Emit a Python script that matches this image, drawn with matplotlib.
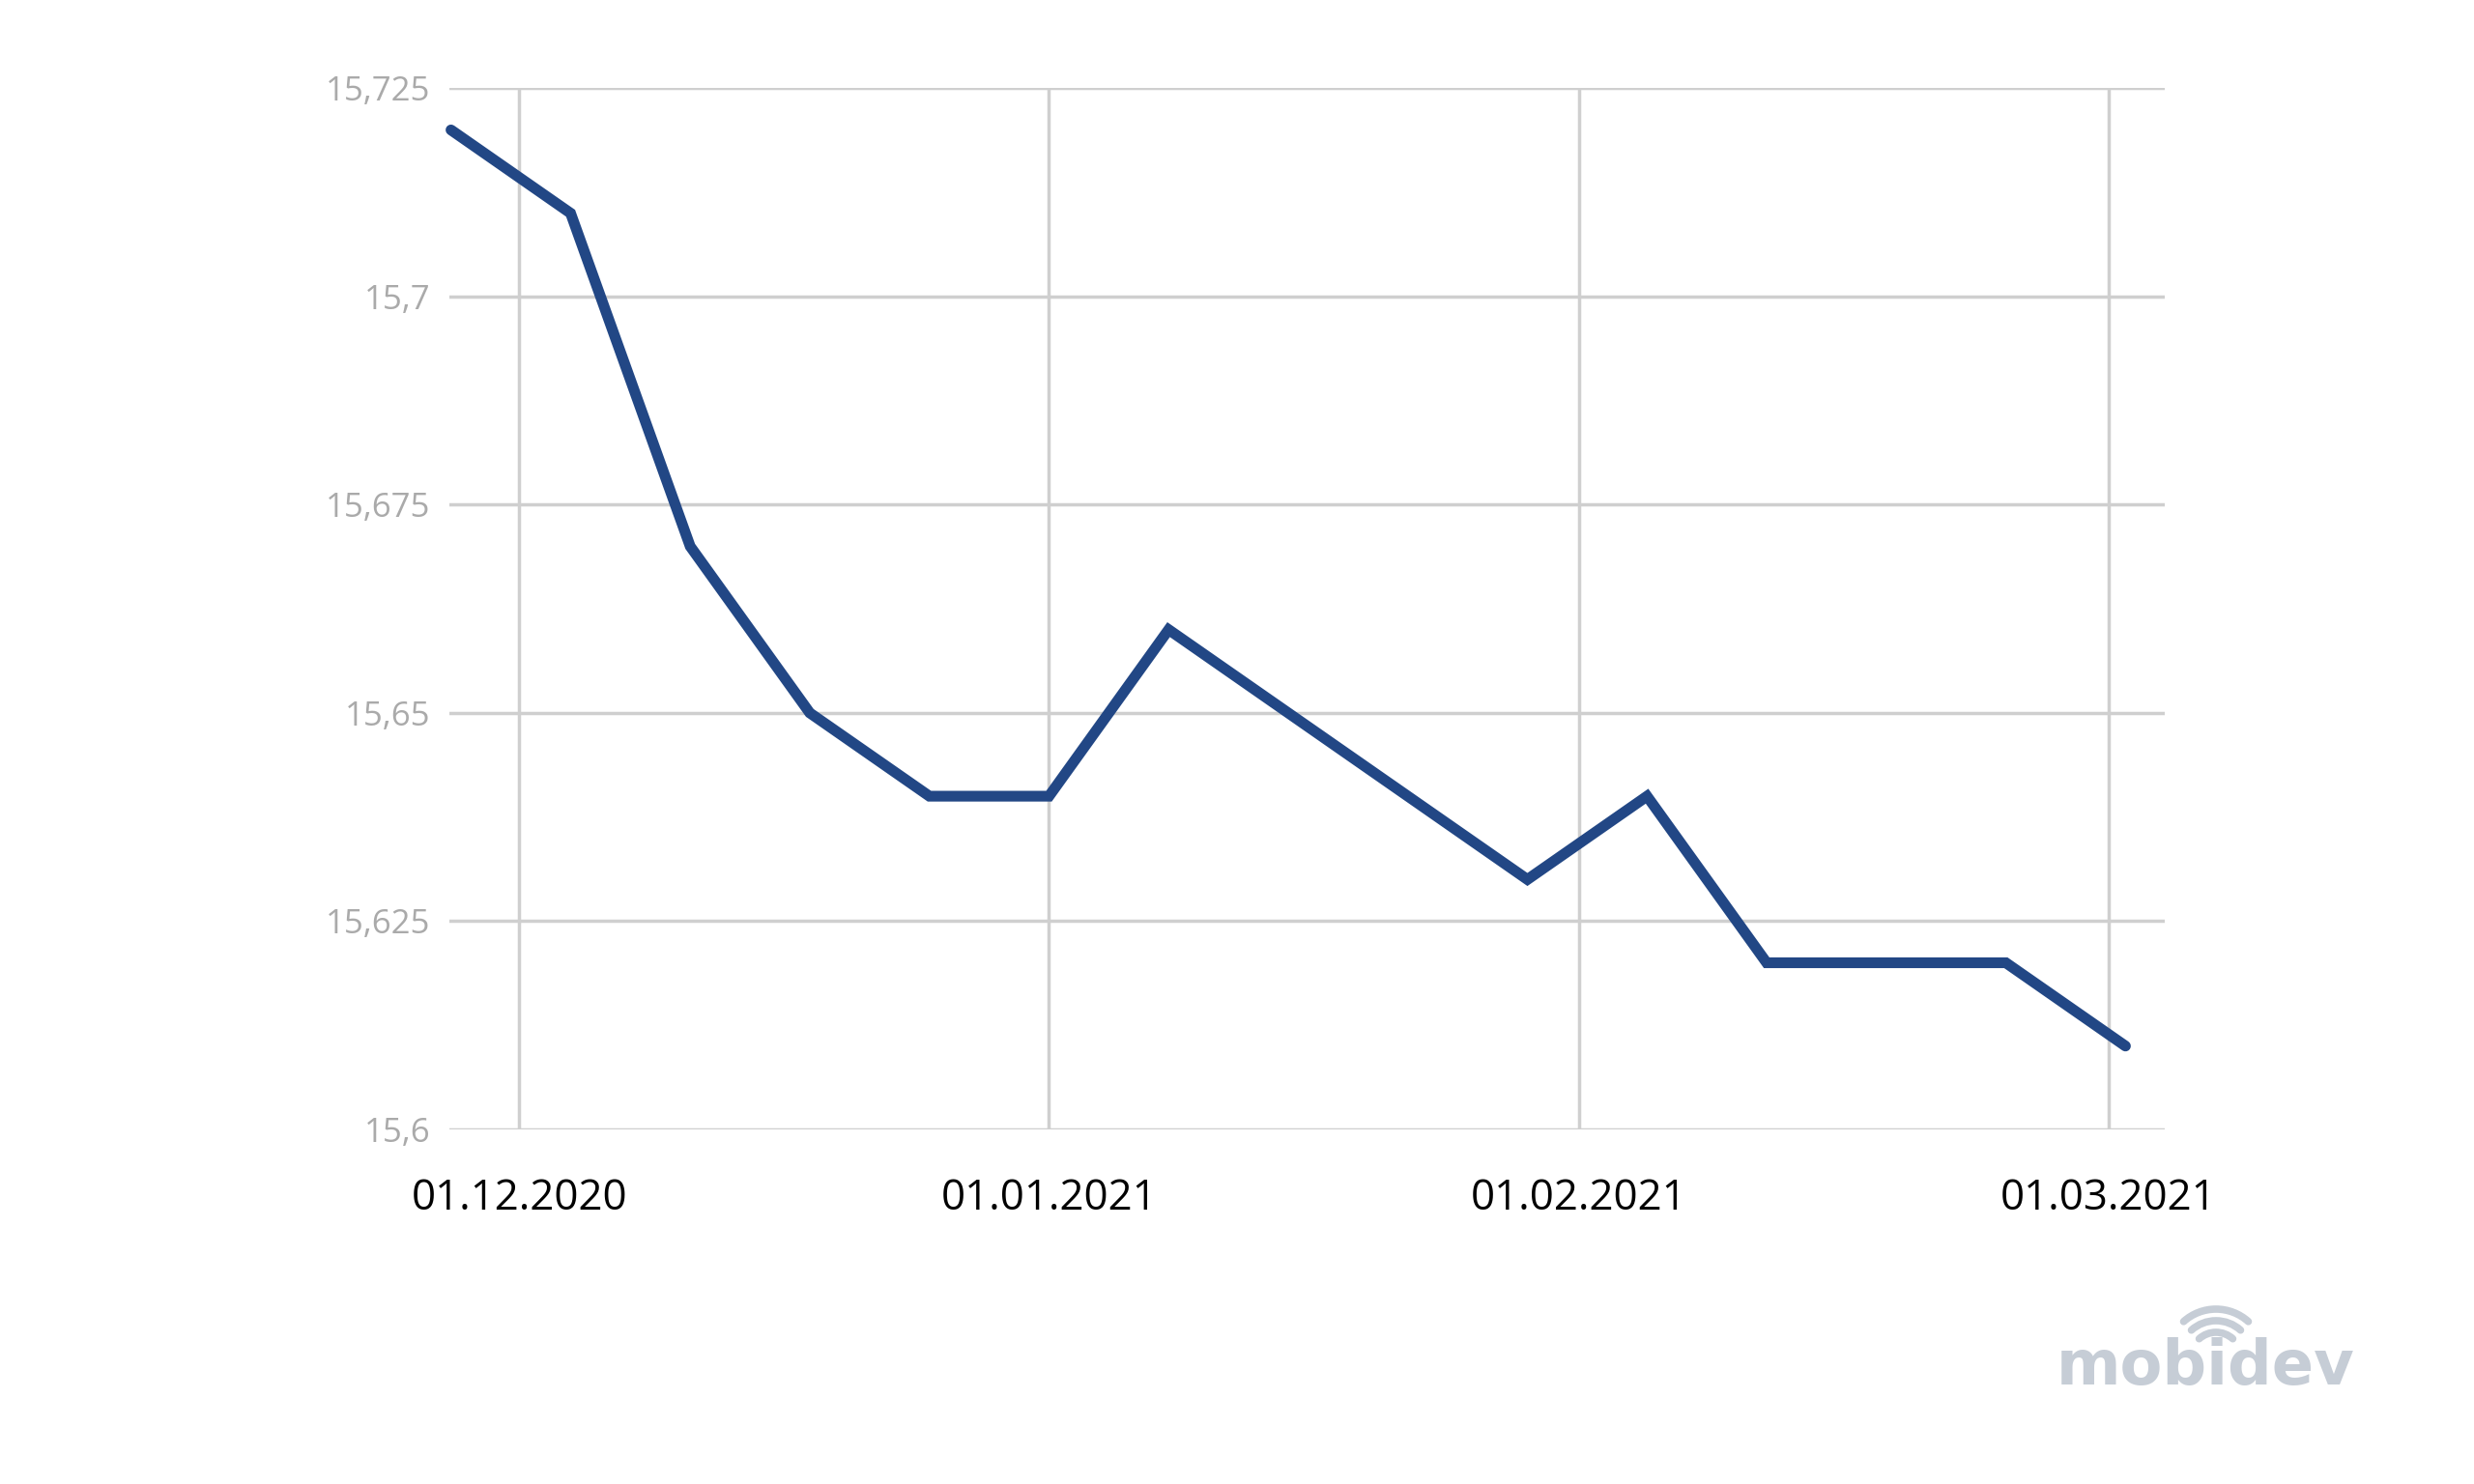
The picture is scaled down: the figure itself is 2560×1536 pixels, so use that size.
import numpy as np
import matplotlib
matplotlib.use('Agg')
import matplotlib.pyplot as plt
from matplotlib.patches import Arc

plt.rcParams['font.family'] = ['Open Sans', 'DejaVu Sans']

# weekly points, days counted from 27.11.2020
days = [0, 7, 14, 21, 28, 35, 42, 49, 56, 63, 70, 77, 84, 91, 98]
rate = [15.72, 15.71, 15.67, 15.65, 15.64, 15.64, 15.66, 15.65,
        15.64, 15.63, 15.64, 15.62, 15.62, 15.62, 15.61]

x_ticks = [4, 35, 66, 97]
x_labels = ['01.12.2020', '01.01.2021', '01.02.2021', '01.03.2021']
y_ticks = [15.6, 15.625, 15.65, 15.675, 15.7, 15.725]
y_labels = ['15,6', '15,625', '15,65', '15,675', '15,7', '15,725']

fig = plt.figure(figsize=(25.6, 15.36), dpi=100)
ax = fig.add_axes([0.1816, 0.239, 0.875 - 0.1816, 0.9405 - 0.239])

ax.plot(days, rate, color='#224785', lw=8, solid_joinstyle='miter',
        solid_capstyle='round', clip_on=False, zorder=3)

ax.set_xlim(-0.1, 100.3)
ax.set_ylim(15.6, 15.725)
ax.set_xticks(x_ticks)
ax.set_xticklabels(x_labels, fontsize=31.5, color='black')
ax.set_yticks(y_ticks)
ax.set_yticklabels(y_labels, fontsize=25, color='#aaaaaa')
ax.tick_params(axis='both', length=0)
ax.tick_params(axis='x', pad=36)
ax.tick_params(axis='y', pad=14)
ax.grid(True, color='#cfcfcf', lw=2.5)
for s in ax.spines.values():
    s.set_visible(False)

# mobidev logo in the corner
fig.text(2128 / 2560, 1 - 1433 / 1536, 'mobidev', fontsize=46, fontweight='bold',
         family='DejaVu Sans', color='#c6cdd6', ha='left', va='baseline')
ov = fig.add_axes([0, 0, 1, 1])
ov.set_xlim(0, 2560)
ov.set_ylim(1536, 0)
ov.axis('off')
for r in [50, 38, 26]:
    ov.add_patch(Arc((2293, 1405), 2 * r, 2 * r, theta1=228, theta2=312,
                     color='#c6cdd6', lw=5.5, capstyle='round'))

fig.savefig('out.png', dpi=100)
